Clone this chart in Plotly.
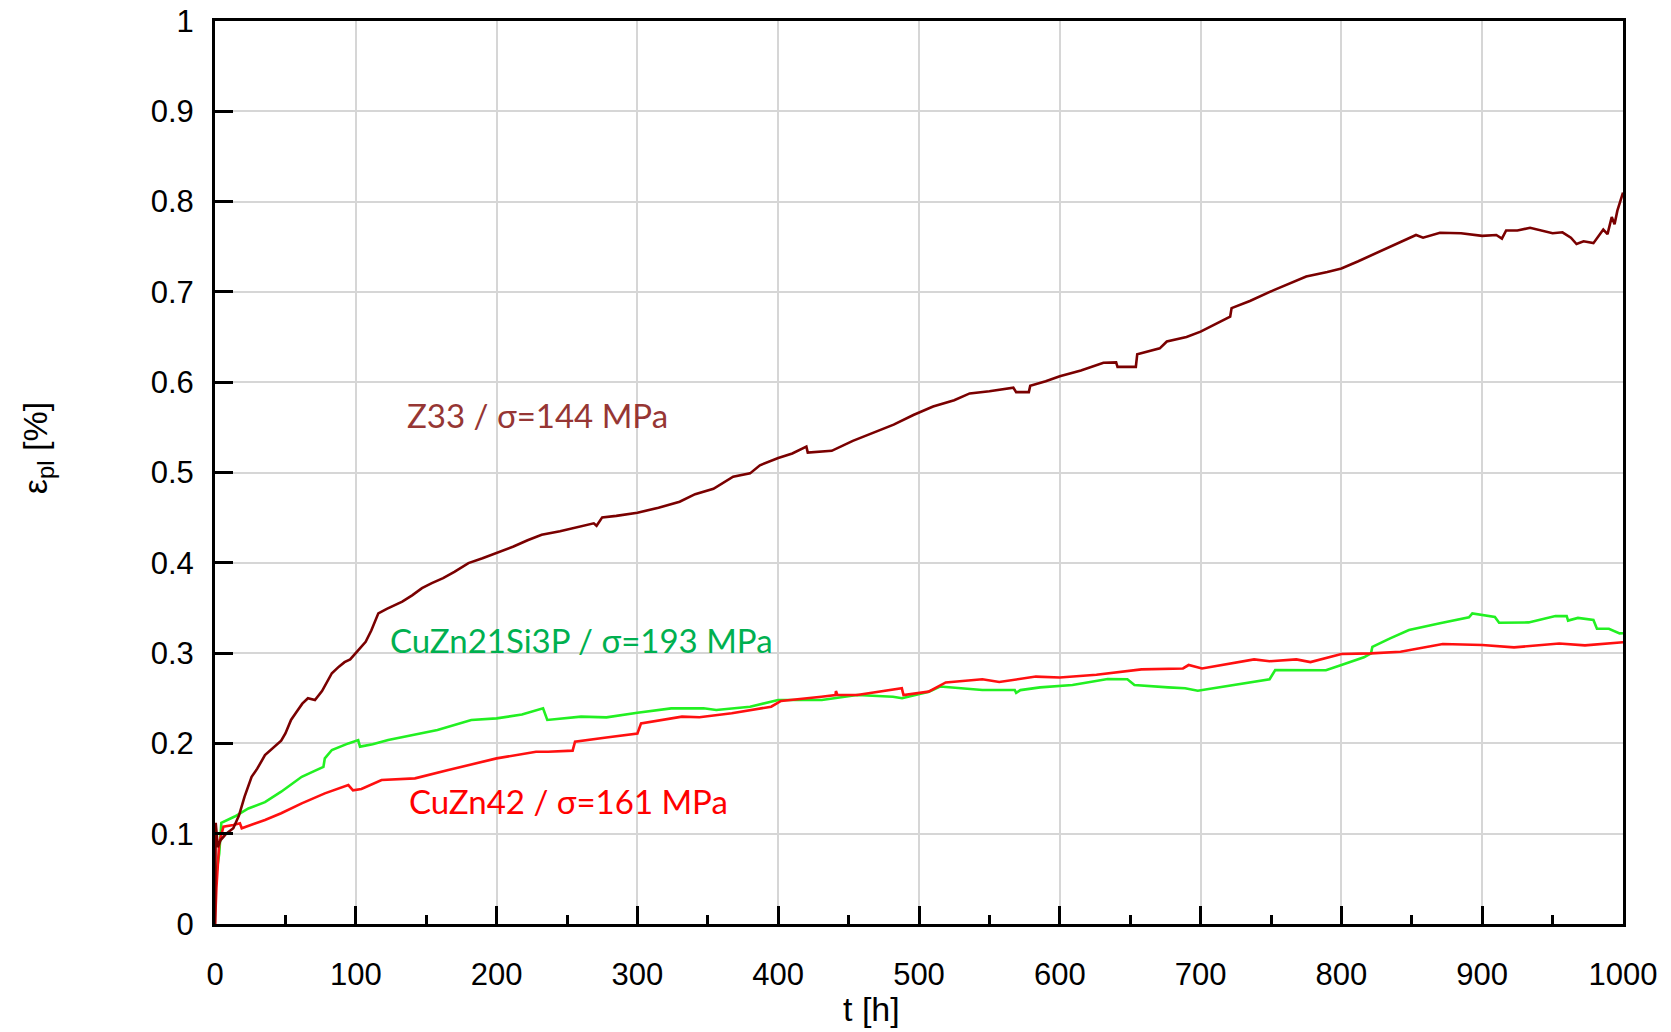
import plotly.graph_objects as go

# ---- data ----
z33_t = [0, 0.5, 2, 4, 8, 13, 17, 21, 26, 30, 35.5, 41, 47, 50, 54, 58, 62, 66, 71, 76, 83, 88, 92, 96, 99,
         103, 107, 111, 114, 116, 122, 128, 133, 140, 147, 154, 162, 170, 180, 190, 200, 212, 222, 232, 245,
         258, 269, 271, 275, 285, 300, 315, 330, 341, 354, 368, 380, 387, 400, 410, 420, 421, 438, 453, 467,
         482, 496, 510, 525, 536, 550, 567, 569, 578, 579, 590, 600, 615, 631, 640, 641, 654, 655, 671, 676,
         690, 700, 710, 721, 722, 735, 752, 765, 775, 790, 800, 812, 823, 835, 846, 853, 858, 870, 885, 900,
         910, 914, 917, 925, 934, 945, 950, 957, 963, 967, 972, 979, 986, 989, 992, 994, 996, 998, 1000]
z33_v = [0, 0.112, 0.085, 0.093, 0.1, 0.106, 0.12, 0.141, 0.163, 0.172, 0.187, 0.195, 0.203, 0.211, 0.226,
         0.235, 0.244, 0.25, 0.248, 0.258, 0.2777, 0.285, 0.29, 0.293, 0.298, 0.305, 0.3125, 0.325, 0.337,
         0.344, 0.349, 0.353, 0.357, 0.364, 0.372, 0.3775, 0.383, 0.39, 0.3997, 0.405, 0.411, 0.418, 0.425,
         0.431, 0.435, 0.44, 0.4437, 0.441, 0.4503, 0.452, 0.4555, 0.461, 0.4677, 0.476, 0.482, 0.4953, 0.499,
         0.508, 0.516, 0.521, 0.5286, 0.522, 0.524, 0.535, 0.544, 0.553, 0.5637, 0.573, 0.58, 0.5876, 0.59,
         0.594, 0.589, 0.589, 0.596, 0.601, 0.6066, 0.613, 0.6215, 0.622, 0.617, 0.617, 0.631, 0.6375, 0.645,
         0.65, 0.656, 0.664, 0.6725, 0.682, 0.69, 0.702, 0.71, 0.717, 0.722, 0.726, 0.734, 0.742, 0.75, 0.758,
         0.763, 0.76, 0.7655, 0.765, 0.762, 0.763, 0.759, 0.768, 0.768, 0.771, 0.767, 0.765, 0.766, 0.76,
         0.753, 0.756, 0.754, 0.769, 0.764, 0.783, 0.775, 0.79, 0.8, 0.81]

cuzn21_t = [0, 3, 4.5, 14, 23.7, 35.5, 47, 61.6, 70, 77, 78, 83, 94.7, 101.7, 103, 112, 123, 134.8, 158, 182,
            200, 218, 233, 236, 245, 260, 278, 300, 324, 347, 356, 380, 400, 413, 431, 456, 481.5, 488, 507,
            515, 545, 568, 569, 572, 586, 609, 634, 648, 653, 677, 689, 698, 725, 749, 753, 789, 800, 816, 821,
            822, 834.6, 848, 870, 890.6, 893, 909, 912, 933, 952, 960, 961, 968, 979, 981.5, 990, 997.6, 1000]
cuzn21_v = [0.045, 0.078, 0.112, 0.119, 0.128, 0.135, 0.1465, 0.163, 0.169, 0.174, 0.1835, 0.1927, 0.2,
            0.2037, 0.1964, 0.199, 0.2037, 0.2074, 0.2148, 0.226, 0.2277, 0.232, 0.2388, 0.226, 0.2275, 0.2296,
            0.2288, 0.234, 0.2388, 0.239, 0.237, 0.2406, 0.248, 0.248, 0.248, 0.2536, 0.2517, 0.25, 0.2573,
            0.263, 0.2591, 0.2591, 0.256, 0.259, 0.262, 0.2646, 0.2713, 0.271, 0.2647, 0.262, 0.261, 0.2583,
            0.2647, 0.271, 0.2813, 0.281, 0.2868, 0.2953, 0.2997, 0.307, 0.3163, 0.3256, 0.333, 0.3397, 0.344,
            0.34, 0.3336, 0.334, 0.341, 0.341, 0.336, 0.339, 0.3366, 0.327, 0.327, 0.3218, 0.322]

cuzn42_t = [0, 1, 3, 6, 13, 17.7, 19, 35.5, 47, 61.6, 78, 94.7, 98, 104, 118.3, 134.8, 142, 165.7, 200, 228,
            236.6, 254, 255.7, 278, 300, 302.6, 331.7, 344, 367, 395, 402, 430.7, 440.7, 441, 442, 456, 487.8,
            489, 506.8, 519, 545, 557, 583, 600, 626, 658, 687.5, 691.5, 701, 738, 749, 768, 778, 800, 821,
            842, 872, 900, 922.6, 954.7, 973, 1000]
cuzn42_v = [0, 0.04, 0.09, 0.1077, 0.1096, 0.1115, 0.106, 0.1152, 0.1226, 0.1336, 0.1447, 0.1539, 0.148,
            0.1495, 0.1595, 0.1613, 0.1613, 0.1705, 0.1834, 0.1908, 0.1908, 0.192, 0.2019, 0.2066, 0.211,
            0.2222, 0.2296, 0.229, 0.2333, 0.2406, 0.247, 0.2517, 0.2536, 0.258, 0.2536, 0.2536, 0.261, 0.2536,
            0.2573, 0.2675, 0.271, 0.268, 0.274, 0.273, 0.276, 0.282, 0.283, 0.2868, 0.283, 0.293, 0.291, 0.293,
            0.29, 0.299, 0.2997, 0.3015, 0.31, 0.309, 0.3063, 0.3107, 0.3085, 0.312]

labels = ["Z33 / σ=144 MPa", "CuZn21Si3P / σ=193 MPa", "CuZn42 / σ=161 MPa"]
label_t = [229, 260, 251]
label_v = [0.564, 0.3145, 0.136]

x_ticks = list(range(0, 1001, 100))
y_ticks = [round(i * 0.1, 1) for i in range(11)]

# ---- figure ----
fig = go.Figure()
fig.add_trace(go.Scatter(x=cuzn21_t, y=cuzn21_v, mode="lines", line=dict(color="#22f022", width=2.6),
                         name=labels[1]))
fig.add_trace(go.Scatter(x=cuzn42_t, y=cuzn42_v, mode="lines", line=dict(color="#ff1010", width=2.6),
                         name=labels[2]))
fig.add_trace(go.Scatter(x=z33_t, y=z33_v, mode="lines", line=dict(color="#7a0000", width=2.6),
                         name=labels[0]))

label_colors = ["#963634", "#00b050", "#ff0000"]
for txt, tx, ty, c in zip(labels, label_t, label_v, label_colors):
    fig.add_annotation(x=tx, y=ty, text=txt, showarrow=False, xanchor="center", yanchor="middle",
                       font=dict(family="Lato, Carlito, sans-serif", size=33, color=c))

fig.add_annotation(xref="paper", yref="paper", x=0.466, y=-0.094, text="t [h]", showarrow=False,
                   xanchor="center", yanchor="middle",
                   font=dict(family="Liberation Sans, Arial, sans-serif", size=34, color="black"))
fig.add_annotation(xref="paper", yref="paper", x=-0.1264, y=0.527, text="ε<sub>pl</sub> [%]", showarrow=False,
                   textangle=-90, xanchor="center", yanchor="middle",
                   font=dict(family="Liberation Sans, Arial, sans-serif", size=34, color="black"))

axis_font = dict(family="Liberation Sans, Arial, sans-serif", size=31, color="black")
fig.update_xaxes(range=[0, 1000], tickvals=x_ticks, ticks="inside", ticklen=18, tickwidth=3, tickcolor="black",
                 showline=True, linecolor="black", linewidth=3, mirror=True, automargin=False,
                 showgrid=True, gridcolor="#d6d6d6", gridwidth=1.5, zeroline=False,
                 tickfont=axis_font, ticklabelstandoff=21,
                 minor=dict(dtick=50, ticks="inside", ticklen=9, tickwidth=3, tickcolor="black", showgrid=False))
fig.update_yaxes(range=[0, 1], tickvals=y_ticks, ticks="inside", ticklen=18, tickwidth=3, tickcolor="black",
                 showline=True, linecolor="black", linewidth=3, mirror=True, automargin=False,
                 showgrid=True, gridcolor="#d6d6d6", gridwidth=1.5, zeroline=False,
                 tickfont=axis_font, ticklabelstandoff=12)

fig.update_layout(width=1671, height=1032, margin=dict(l=215, r=48, t=21, b=108),
                  paper_bgcolor="white", plot_bgcolor="white", showlegend=False)

fig.write_html("out.html")
